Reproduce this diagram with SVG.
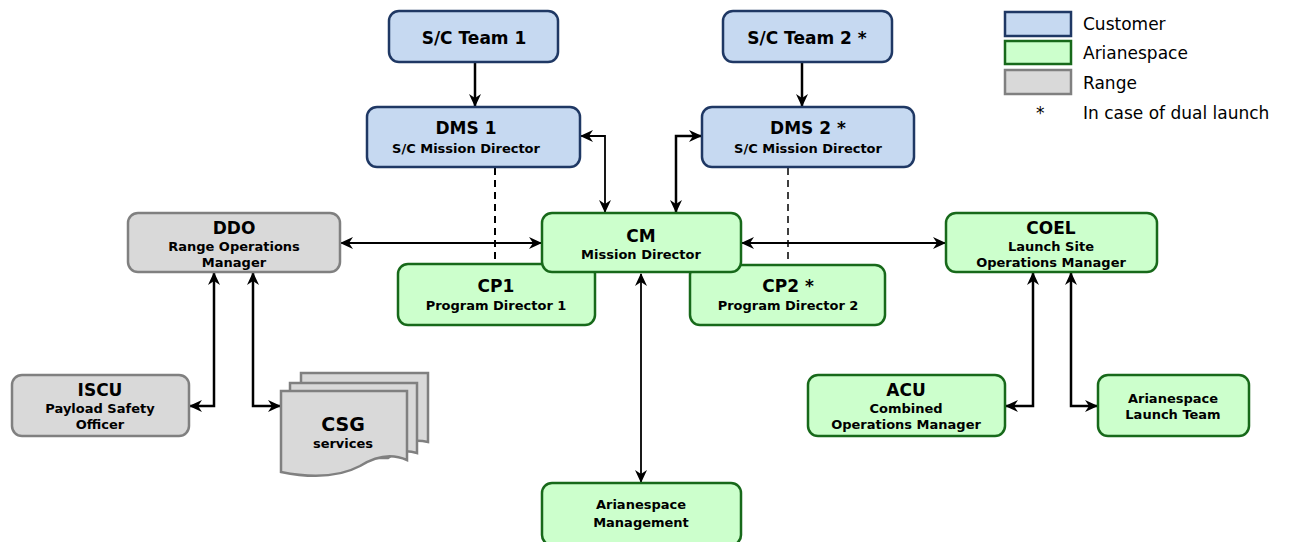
<svg xmlns="http://www.w3.org/2000/svg" width="1291" height="542" viewBox="0 0 1291 542">
<style>
.cust{fill:#c6d9f1;stroke:#1f3864;stroke-width:2.5}
.aria{fill:#ccffcc;stroke:#17691a;stroke-width:2.5}
.rng{fill:#d9d9d9;stroke:#808080;stroke-width:2.5}
text{font-family:"DejaVu Sans",Verdana,sans-serif;font-weight:bold;fill:#000;text-anchor:middle}
.t{font-size:17px}
.s{font-size:13px}
.leg{font-weight:normal;font-size:17px;text-anchor:start}
.ln{fill:none;stroke:#000;stroke-width:2.5}
.thin{fill:none;stroke:#000;stroke-width:1.8}
.dash{fill:none;stroke:#000;stroke-width:2;stroke-dasharray:7,5}
</style>
<defs>
<marker id="ah" markerUnits="userSpaceOnUse" markerWidth="14" markerHeight="12" refX="12" refY="6" orient="auto-start-reverse" viewBox="0 0 14 12">
<path d="M0,0 L13,6 L0,12 L4,6 z" fill="#000"/>
</marker>
</defs>

<g id="connectors">
<line class="ln" x1="475" y1="62" x2="475" y2="106" marker-end="url(#ah)"/>
<line class="ln" x1="802" y1="62" x2="802" y2="106" marker-end="url(#ah)"/>
<polyline class="thin" points="581,136 605,136 605,212" marker-start="url(#ah)" marker-end="url(#ah)"/>
<polyline class="ln" points="676,212 676,136 701,136" marker-start="url(#ah)" marker-end="url(#ah)"/>
<line class="dash" x1="495" y1="168" x2="495" y2="264"/>
<line class="dash" x1="788" y1="168" x2="788" y2="265" style="stroke-width:1.5"/>
<line class="thin" x1="341" y1="243" x2="541" y2="243" marker-start="url(#ah)" marker-end="url(#ah)"/>
<line class="thin" x1="742" y1="243" x2="945" y2="243" marker-start="url(#ah)" marker-end="url(#ah)"/>
<polyline class="ln" points="214,273 214,406 190,406" marker-start="url(#ah)" marker-end="url(#ah)"/>
<polyline class="ln" points="253,273 253,406 280,406" marker-start="url(#ah)" marker-end="url(#ah)"/>
<polyline class="ln" points="1033,273 1033,406 1006,406" marker-start="url(#ah)" marker-end="url(#ah)"/>
<polyline class="ln" points="1071,273 1071,406 1097,406" marker-start="url(#ah)" marker-end="url(#ah)"/>
<line class="thin" x1="641" y1="274" x2="641" y2="482" marker-start="url(#ah)" marker-end="url(#ah)"/>
</g>

<g id="sc-team-1">
<rect class="cust" x="389" y="11" width="169" height="51" rx="10"/>
<text class="t" x="474" y="44">S/C Team 1</text>
</g>
<g id="sc-team-2">
<rect class="cust" x="723" y="11" width="169" height="51" rx="10"/>
<text class="t" x="807" y="44">S/C Team 2 *</text>
</g>
<g id="dms-1">
<rect class="cust" x="367" y="107" width="213" height="60" rx="10"/>
<text class="t" x="466" y="134">DMS 1</text>
<text class="s" x="466" y="153">S/C Mission Director</text>
</g>
<g id="dms-2">
<rect class="cust" x="702" y="107" width="212" height="60" rx="10"/>
<text class="t" x="808" y="134">DMS 2 *</text>
<text class="s" x="808" y="153">S/C Mission Director</text>
</g>
<g id="ddo">
<rect class="rng" x="128" y="213" width="212" height="59" rx="10"/>
<text class="t" x="234" y="234">DDO</text>
<text class="s" x="234" y="251">Range Operations</text>
<text class="s" x="234" y="267">Manager</text>
</g>
<g id="cp1">
<rect class="aria" x="398" y="264" width="197" height="61" rx="10"/>
<text class="t" x="496" y="292">CP1</text>
<text class="s" x="496" y="310">Program Director 1</text>
</g>
<g id="cp2">
<rect class="aria" x="690" y="265" width="195" height="60" rx="10"/>
<text class="t" x="788" y="292">CP2 *</text>
<text class="s" x="788" y="310">Program Director 2</text>
</g>
<g id="cm">
<rect class="aria" x="542" y="213" width="199" height="59" rx="10"/>
<text class="t" x="641" y="242">CM</text>
<text class="s" x="641" y="259">Mission Director</text>
</g>
<g id="coel">
<rect class="aria" x="946" y="213" width="211" height="59" rx="10"/>
<text class="t" x="1051" y="234">COEL</text>
<text class="s" x="1051" y="251">Launch Site</text>
<text class="s" x="1051" y="267">Operations Manager</text>
</g>
<g id="iscu">
<rect class="rng" x="12" y="375" width="177" height="61" rx="10"/>
<text class="t" x="100" y="396">ISCU</text>
<text class="s" x="100" y="413">Payload Safety</text>
<text class="s" x="100" y="429">Officer</text>
</g>
<g id="csg">
<path class="rng" d="M301,373 H428 V442 Q410,438 398,447 L301,447 Z"/>
<path class="rng" d="M290,383 H417 V453 Q400,448 388,458 L290,458 Z"/>
<path class="rng" d="M281,391 H407 V460 Q385,450 360,466 Q330,482 281,472 Z"/>
<text x="343" y="431" style="font-size:19px">CSG</text>
<text class="s" x="343" y="448">services</text>
</g>
<g id="acu">
<rect class="aria" x="808" y="375" width="197" height="61" rx="10"/>
<text class="t" x="906" y="396">ACU</text>
<text class="s" x="906" y="413">Combined</text>
<text class="s" x="906" y="429">Operations Manager</text>
</g>
<g id="launch-team">
<rect class="aria" x="1098" y="375" width="151" height="61" rx="10"/>
<text class="s" x="1173" y="403">Arianespace</text>
<text class="s" x="1173" y="419">Launch Team</text>
</g>
<g id="management">
<rect class="aria" x="542" y="483" width="199" height="62" rx="10"/>
<text class="s" x="641" y="509">Arianespace</text>
<text class="s" x="641" y="527">Management</text>
</g>

<g id="legend">
<rect class="cust" x="1005" y="12" width="66" height="24"/>
<text class="leg" x="1083" y="30">Customer</text>
<rect class="aria" x="1005" y="41" width="66" height="23"/>
<text class="leg" x="1083" y="59">Arianespace</text>
<rect class="rng" x="1005" y="70" width="66" height="24"/>
<text class="leg" x="1083" y="89">Range</text>
<text class="leg" x="1036" y="119">*</text>
<text class="leg" x="1083" y="119">In case of dual launch</text>
</g>
</svg>
